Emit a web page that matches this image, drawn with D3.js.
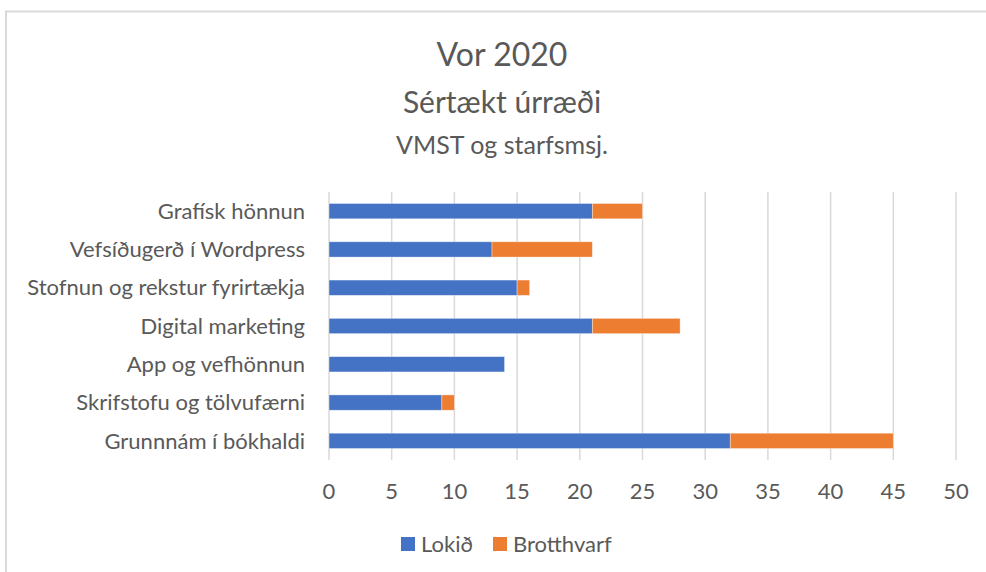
<!DOCTYPE html>
<html>
<head>
<meta charset="utf-8">
<script src="https://cdn.jsdelivr.net/npm/d3@7"></script>
<style>
body { margin: 0; background: #fff; }
svg text { font-family: Lato, "Open Sans", sans-serif; fill: #595959; }
</style>
</head>
<body>
<svg></svg>
<script>
const width = 986;
const height = 572;
const margin = {left: 329, right: 30, top: 192, bottom: 112};

// chart data, top to bottom as drawn
const categories = [
	'Grafísk hönnun',
	'Vefsíðugerð í Wordpress',
	'Stofnun og rekstur fyrirtækja',
	'Digital marketing',
	'App og vefhönnun',
	'Skrifstofu og tölvufærni',
	'Grunnnám í bókhaldi'
];
const lokid = [21, 13, 15, 21, 14, 9, 32];
const brotthvarf = [4, 8, 1, 7, 0, 1, 13];
const seriesNames = ['Lokið', 'Brotthvarf'];
const seriesColors = ['#4472c4', '#ed7d31'];
const xTicks = [0, 5, 10, 15, 20, 25, 30, 35, 40, 45, 50];
const titleLines = ['Vor 2020', 'Sértækt úrræði', 'VMST og starfsmsj.'];

var svg = d3.select('svg').attr('width', width).attr('height', height);

// outer chart frame
svg.append('rect')
.attr('x', 6).attr('y', 11.5).attr('width', 1000).attr('height', 600)
.style('fill', 'none').style('stroke', '#d9d9d9').style('stroke-width', 2);

// titles
var titleY = [66, 113, 154];
var titleSize = [32, 30, 25];
titleLines.forEach((t, i) => {
	svg.append('text').attr('x', 502).attr('y', titleY[i])
	.attr('text-anchor', 'middle').style('font-size', titleSize[i] + 'px')
	.text(t);
});

var x = d3.scaleLinear().domain([0, 50]).range([margin.left, 956]);
var y = d3.scaleBand().domain(categories).range([margin.top, 460]).paddingInner(0.6).paddingOuter(0.3);

// gridlines
svg.append('g').selectAll('line').data(xTicks).enter().append('line')
.attr('x1', d => x(d)).attr('x2', d => x(d))
.attr('y1', margin.top).attr('y2', 460)
.style('stroke', '#d9d9d9').style('stroke-width', 1.5);

// stacked bars
var rows = categories.map((c, i) => ({cat: c, Lokið: lokid[i], Brotthvarf: brotthvarf[i]}));
var stack = d3.stack().keys(seriesNames)(rows);

svg.append('g').selectAll('g').data(stack).enter().append('g')
.style('fill', (d, i) => seriesColors[i])
.selectAll('rect').data(d => d).enter().append('rect')
.attr('x', d => x(d[0]))
.attr('width', d => x(d[1]) - x(d[0]))
.attr('y', d => y(d.data.cat))
.attr('height', y.bandwidth())
.style('stroke', 'rgba(255,255,255,0.5)').style('stroke-width', 0.75);

// category labels
svg.append('g').selectAll('text').data(categories).enter().append('text')
.attr('x', 305).attr('y', d => y(d) + y.bandwidth() / 2)
.attr('dy', '0.35em').attr('text-anchor', 'end')
.style('font-size', '22px').text(d => d);

// x axis tick labels
svg.append('g').selectAll('text').data(xTicks).enter().append('text')
.attr('x', d => x(d)).attr('y', 499)
.attr('text-anchor', 'middle').style('font-size', '22px')
.text(d => d);

// legend
var legendX = [401, 493];
var legend = svg.append('g').selectAll('g').data(seriesNames).enter().append('g')
.attr('transform', (d, i) => 'translate(' + legendX[i] + ',537)');
legend.append('rect').attr('width', 14).attr('height', 14)
.style('fill', (d, i) => seriesColors[i]);
legend.append('text').attr('x', 20).attr('y', 7).attr('dy', '0.35em')
.style('font-size', '22px').text(d => d);
</script>
</body>
</html>
